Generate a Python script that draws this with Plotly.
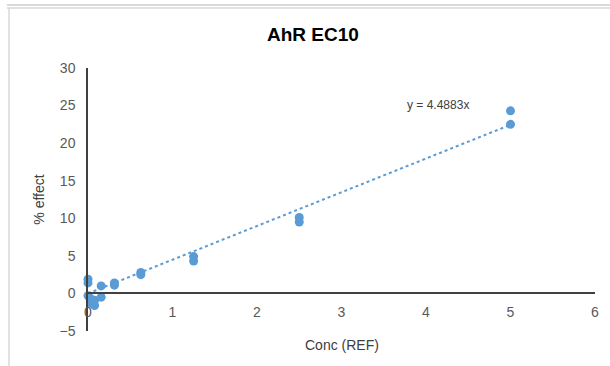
import plotly.graph_objects as go

conc = [5, 5, 2.5, 2.5, 1.25, 1.25, 0.625, 0.625, 0.3125, 0.3125,
        0.156, 0.156, 0.078, 0.078, 0.039, 0.039, 0, 0, 0, 0.02]
effect = [24.3, 22.5, 10.1, 9.5, 4.9, 4.3, 2.8, 2.5, 1.4, 1.1,
          1.0, -0.5, -1.6, -0.9, -0.8, -1.3, 1.9, 1.4, -0.3, -0.6]
slope = 4.4883
trend_x = [0, 5]
trend_y = [slope * v for v in trend_x]

x_ticks = [0, 1, 2, 3, 4, 5, 6]
y_ticks = [-5, 0, 5, 10, 15, 20, 25, 30]
y_range = [-5, 30]

blue = "#5B9BD5"
fig = go.Figure()
fig.add_trace(go.Scatter(x=trend_x, y=trend_y, mode="lines",
                         line=dict(color=blue, width=2, dash="dot"),
                         hoverinfo="skip", showlegend=False))
fig.add_trace(go.Scatter(x=conc, y=effect, mode="markers",
                         marker=dict(color=blue, size=9),
                         cliponaxis=False, showlegend=False))

pos0 = (0 - y_range[0]) / (y_range[1] - y_range[0])
fig.update_layout(
    width=610, height=366,
    margin=dict(l=88, r=15, t=68, b=35),
    paper_bgcolor="white", plot_bgcolor="white",
    font=dict(family="Liberation Sans, Arial", color="#595959", size=14),
    title=dict(text="<b>AhR EC10</b>", x=0.513, xanchor="center", y=0.905, yanchor="middle",
               font=dict(size=19, color="black")),
    xaxis=dict(range=[0, 6], tickvals=x_ticks, showgrid=False, zeroline=False,
               showline=True, linecolor="#404040", linewidth=1.5,
               anchor="free", position=pos0, ticks="", ticklabelstandoff=6),
    yaxis=dict(range=y_range, tickvals=y_ticks, showgrid=False, zeroline=False,
               showline=True, linecolor="#404040", linewidth=1.5, ticks="",
               ticklabelstandoff=8,
               title=dict(text="% effect", font=dict(size=14, color="#404040"), standoff=12)),
    annotations=[
        dict(x=4.14, y=25.1, xref="x", yref="y", text="y = 4.4883x",
             showarrow=False, font=dict(size=12, color="#404040")),
        dict(x=0.5, y=-0.015, xref="paper", yref="paper", text="Conc (REF)",
             showarrow=False, yanchor="top", font=dict(size=14, color="#404040")),
    ],
    shapes=[
        dict(type="line", xref="paper", yref="paper", x0=-0.16, x1=1.03,
             y0=1 + (68 - 5) / 263, y1=1 + (68 - 5) / 263, line=dict(color="#d9d9d9", width=2)),
        dict(type="line", xref="paper", yref="paper", x0=-0.16, x1=1.03,
             y0=1 + (68 - 8) / 263, y1=1 + (68 - 8) / 263, line=dict(color="#d9d9d9", width=1.5)),
        dict(type="line", xref="paper", yref="paper", x0=-(88 - 9) / 507, x1=-(88 - 9) / 507,
             y0=1 + (68 - 8) / 263, y1=-0.2, line=dict(color="#d9d9d9", width=1.5)),
    ],
)
fig.write_html("out.html")
